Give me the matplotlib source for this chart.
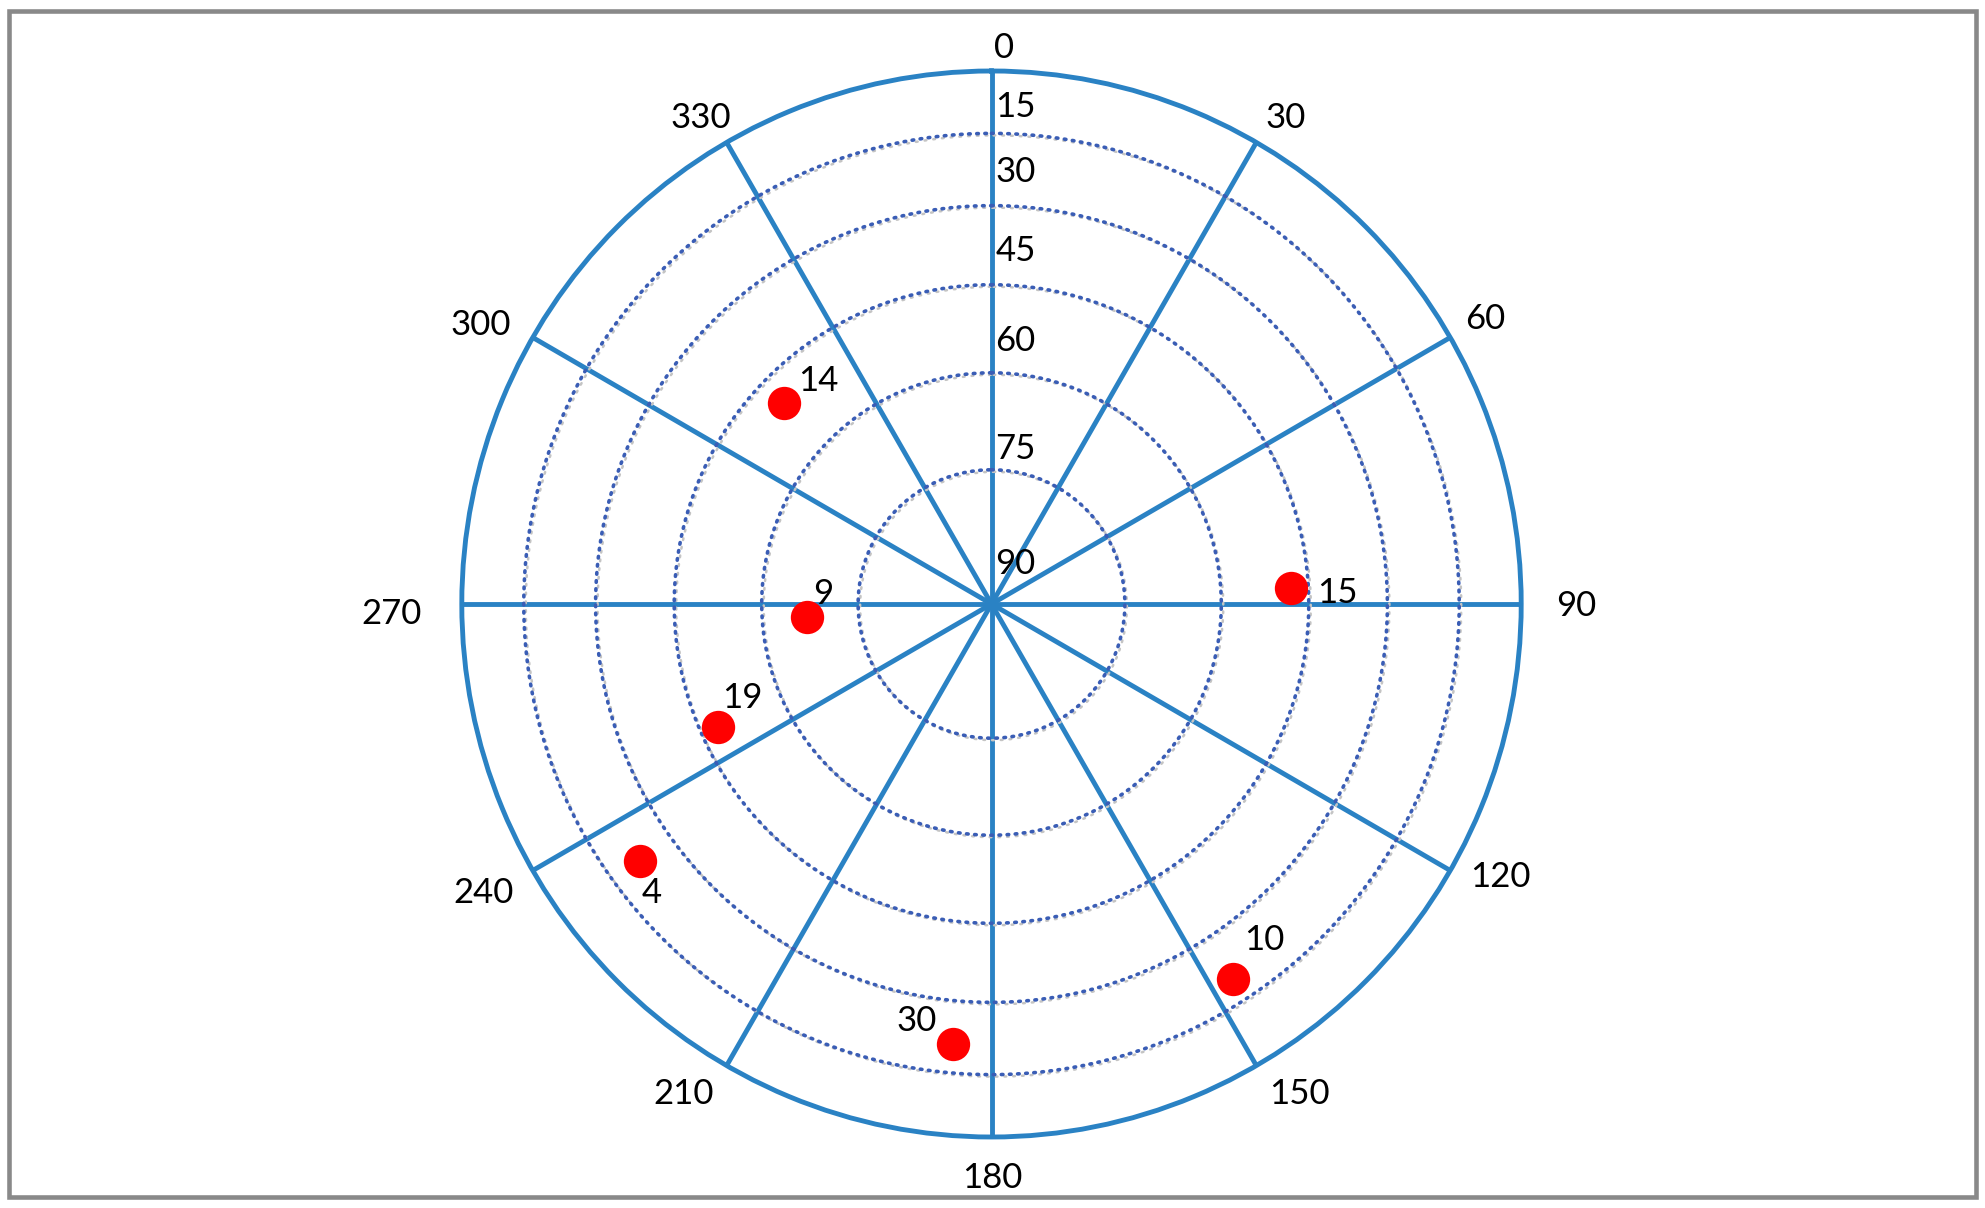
import numpy as np
import matplotlib
matplotlib.use("Agg")
import matplotlib.pyplot as plt
from matplotlib import transforms
from matplotlib.patches import Rectangle
from matplotlib.ticker import NullLocator

# ---------------- data ----------------
prn_labels = ["14", "15", "9", "19", "4", "30", "10"]
azimuth_deg = [314, 87, 266, 246, 234, 185, 147]
elevation_deg = [50, 48, 67, 48, 22, 21, 20]

azimuth_ticks = [0, 30, 60, 90, 120, 150, 180, 210, 240, 270, 300, 330]
elevation_rings = [15, 30, 45, 60, 75, 90]

# radial scale of the chart: zenith distance -> fraction of outer radius
scale_zenith = [0, 15, 30, 45, 60, 75, 90]
scale_frac = [0.0, 0.2518, 0.4338, 0.599, 0.7474, 0.883, 1.0]

# ---------------- layout (pixels) ----------------
az_label_offsets = {0: (13, 26), 30: (29, 27), 60: (35, 21), 90: (55, 0),
                    120: (50, -4), 150: (43, -26), 180: (1, -38), 210: (-43, -26),
                    240: (-49, -20), 270: (-70, -7), 300: (-52, 15), 330: (-26, 27)}
ring_label_offsets = {15: 29, 30: 36, 45: 36, 60: 34, 75: 23, 90: 42}
point_label_offsets = [(34, 24), (46, -2), (16, 25), (25, 31), (11, -30), (-37, 26), (31, 41)]

BLUE = "#2A82C4"
DOT_BLUE = "#3A5DB5"
SHADOW = "#C4C4C4"
FONT = "Lato"
FS = 25
CAP = 12.5  # half cap-height in px, to centre digits visually

W, H, DPI = 1985, 1208, 100
fig = plt.figure(figsize=(W / DPI, H / DPI), dpi=DPI)
fig.patch.set_facecolor("white")

cx, cy = 991.5, 604.0
rh, rv = 529.7, 533.0
ax = fig.add_axes([(cx - rh) / W, (cy - rv) / H, 2 * rh / W, 2 * rv / H],
                  projection="polar")
ax.set_aspect("auto")
ax.set_theta_zero_location("N")
ax.set_theta_direction(-1)

zs_ext = np.array([-90.0] + scale_zenith + [180.0])
fr_ext = np.array([-1.0] + scale_frac + [2.0])


def fwd(z):
    return np.interp(z, zs_ext, fr_ext)


def inv(f):
    return np.interp(f, fr_ext, zs_ext)


ax.set_rscale("function", functions=(fwd, inv))
ax.set_rlim(0, 90)
ax.set_xticks([])
ax.set_yticks([])
ax.yaxis.set_minor_locator(NullLocator())
ax.xaxis.set_minor_locator(NullLocator())
ax.grid(False)
ax.spines["polar"].set_color(BLUE)
ax.spines["polar"].set_linewidth(3.5)

theta_full = np.linspace(0, 2 * np.pi, 1441)

# spokes
for a in azimuth_ticks:
    t = np.deg2rad(a)
    ax.plot([t, t], [0, 90], color=BLUE, lw=3.5, solid_capstyle="butt", zorder=2)

# dotted elevation rings with faint gray shadow
shadow_tr = transforms.offset_copy(ax.transData, fig=fig, x=2, y=-2, units="dots")
for el in elevation_rings:
    z = 90 - el
    if z <= 0:
        continue
    r = np.full_like(theta_full, z)
    ax.plot(theta_full, r, color=SHADOW, lw=1.8, ls=(0, (0.7, 2.8)),
            dash_capstyle="round", transform=shadow_tr, zorder=2.5)
    ax.plot(theta_full, r, color=DOT_BLUE, lw=2.6, ls=(0, (0.45, 1.8)),
            dash_capstyle="round", zorder=3)

# azimuth labels
for a in azimuth_ticks:
    dx, dy = az_label_offsets[a]
    ax.annotate(str(a), xy=(np.deg2rad(a), 90), xycoords="data",
                xytext=(dx, dy - CAP), textcoords="offset pixels",
                ha="center", va="baseline", fontsize=FS, family=FONT,
                color="black", annotation_clip=False)

# elevation labels along the 0 spoke
for el in elevation_rings:
    ax.annotate(str(el), xy=(0, 90 - el), xycoords="data",
                xytext=(4, ring_label_offsets[el] - CAP), textcoords="offset pixels",
                ha="left", va="baseline", fontsize=FS, family=FONT,
                color="black", annotation_clip=False, zorder=5)

# satellites
theta_pts = np.deg2rad(azimuth_deg)
zen_pts = 90 - np.array(elevation_deg)
ax.plot(theta_pts, zen_pts, ls="none", marker="o", ms=24, color="#FF0000",
        markeredgewidth=0, zorder=6)
for lab, t, z, (dx, dy) in zip(prn_labels, theta_pts, zen_pts, point_label_offsets):
    ax.annotate(lab, xy=(t, z), xycoords="data", xytext=(dx, dy - CAP),
                textcoords="offset pixels", ha="center", va="baseline",
                fontsize=FS, family=FONT, color="black", zorder=7)

# outer frame
fig.patches.append(Rectangle((8.5 / W, 11 / H), (1976 - 8.5) / W, (1197 - 11) / H,
                             transform=fig.transFigure, fill=False,
                             edgecolor="#898989", lw=3.3))

fig.savefig("out.png", dpi=DPI, facecolor="white")
